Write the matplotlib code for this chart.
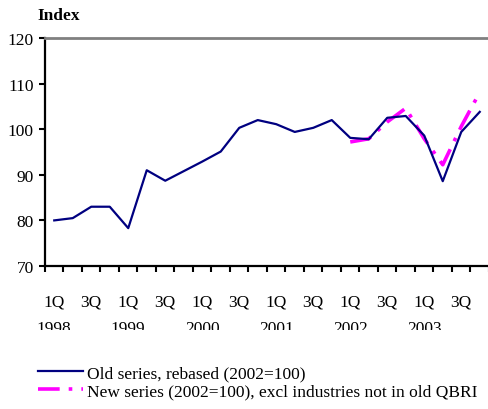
import matplotlib.pyplot as plt
from matplotlib.transforms import Bbox, TransformedBbox, blended_transform_factory

quarters = ['1Q', '2Q', '3Q', '4Q'] * 6
years = ['1998', '1999', '2000', '2001', '2002', '2003']
old_series = [80.0, 80.5, 83.0, 83.0, 78.3, 91.0, 88.7, 90.8,
              92.9, 95.1, 100.3, 102.0, 101.1, 99.4, 100.3, 102.0,
              98.1, 97.8, 102.5, 102.9, 98.6, 88.6, 99.4, 103.8]
new_start = 16
new_series = [97.2, 97.9, 101.6, 104.6, 97.9, 92.2, 100.6, 108.1]
old_label = 'Old series, rebased (2002=100)'
new_label = 'New series (2002=100), excl industries not in old QBRI'

plt.rcParams['font.family'] = ['Liberation Serif', 'DejaVu Serif']
fs = 12.5

fig = plt.figure(figsize=(4.89, 4.10), dpi=100)
ax = fig.add_axes([45 / 489, 1 - 267 / 410, 444 / 489, 228 / 410])

x_old = list(range(len(old_series)))
x_new = list(range(new_start, new_start + len(new_series)))
l_old, = ax.plot(x_old, old_series, color='#000080', lw=1.6, label=old_label, zorder=3)
l_new, = ax.plot(x_new, new_series, color='#ff00ff', lw=2.6, label=new_label,
                 dashes=(6, 2.5, 1, 2.5), zorder=2)

ax.set_xlim(-0.5, len(old_series) - 0.5)
ax.set_ylim(70, 120)
ax.set_yticks(range(70, 121, 10))
ax.set_xticks([i - 0.5 for i in range(len(old_series) + 1)])
ax.set_xticklabels([])
ax.set_xticks(x_old, minor=True)
ax.set_xticklabels([q if q in ('1Q', '3Q') else '' for q in quarters], minor=True)
ax.tick_params(axis='x', which='major', direction='out', length=4, width=1.5)
ax.tick_params(axis='x', which='minor', length=0, pad=20, labelsize=fs)
ax.tick_params(axis='y', direction='out', length=4, width=1.5, pad=4, labelsize=fs)

for side in ['left', 'bottom']:
    ax.spines[side].set_linewidth(1.6)
ax.spines['right'].set_visible(False)
ax.spines['top'].set_color('#808080')
ax.spines['top'].set_linewidth(2)

# year labels, cut off at the bottom like the original
clip = TransformedBbox(Bbox([[0, 1 - 331 / 410], [1, 1]]), fig.transFigure)
trans = blended_transform_factory(ax.transData, fig.transFigure)
for k, yr in enumerate(years):
    t = ax.text(k * 4, 1 - 321 / 410, yr, transform=trans, ha='center', va='top',
                fontsize=fs, clip_on=True)
    t.set_clip_box(clip)

fig.text(37 / 489, 1 - 8 / 410, 'Index', fontsize=12.5, fontweight='bold', va='top')

fig.legend(handles=[l_old, l_new], loc='upper left', bbox_to_anchor=(38 / 489, 1 - 366 / 410),
           frameon=False, fontsize=fs, handlelength=2.6, handletextpad=0.25,
           labelspacing=0.1, borderpad=0, borderaxespad=0)

fig.savefig('out.png', dpi=100)
